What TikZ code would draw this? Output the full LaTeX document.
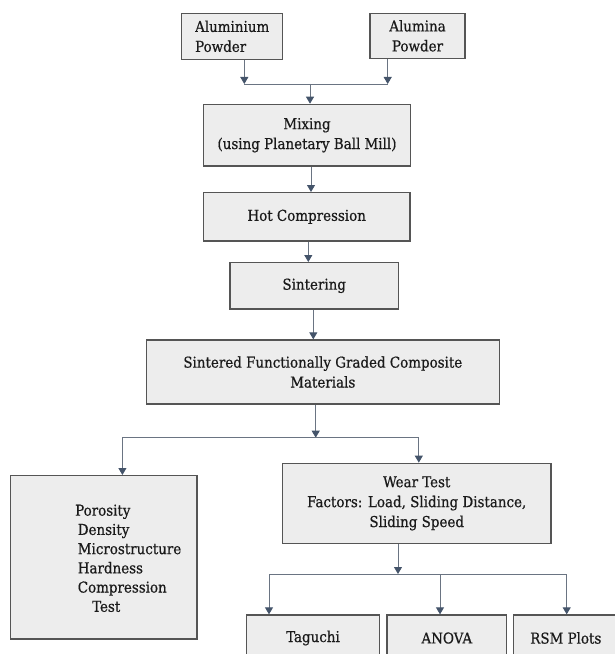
\documentclass[tikz,border=0pt]{standalone}
\usepackage{fontspec}
\setmainfont[FakeBold=0.6]{DejaVu Serif Condensed}
\usetikzlibrary{arrows.meta}
\definecolor{boxfill}{HTML}{EDEDED}
\definecolor{boxline}{HTML}{555555}
\definecolor{arr}{HTML}{6A7482}
\definecolor{tip}{HTML}{44546A}
\definecolor{txt}{HTML}{1A1A1A}
\begin{document}
\begin{tikzpicture}[x=1bp,y=-1bp,
 box/.style={draw=boxline, line width=1.3bp, fill=boxfill, inner sep=0pt, font=\fontsize{15}{20}\selectfont, text=txt, align=center},
 lbl/.style={inner sep=0pt, font=\fontsize{15}{19.3}\selectfont, text=txt, align=left},
 conn/.style={draw=arr, line width=0.9bp},
 arw/.style={conn, -{Triangle[width=8bp,length=7bp,color=tip]}}]
\useasboundingbox (0,0) rectangle (615,654);
\clip (0,0) rectangle (615,654);
% boxes
\node[box, minimum width=101bp, minimum height=46bp, align=left] (alu) at (232.2,36.3) {Aluminium\\Powder};
\node[box, minimum width=95bp, minimum height=45bp] (alm) at (417.5,35.8) {Alumina\\Powder};
\node[box, minimum width=207.4bp, minimum height=61.7bp] (mix) at (307,135.2) {Mixing\\(using Planetary Ball Mill)};
\node[box, minimum width=206.7bp, minimum height=48.3bp] (hot) at (306.7,216.8) {Hot Compression};
\node[box, minimum width=168.3bp, minimum height=46.3bp] (sin) at (314.2,285.8) {Sintering};
\node[box, minimum width=353bp, minimum height=64bp] (fgc) at (322.8,372) {Sintered Functionally Graded Composite\\Materials};
\node[box, minimum width=186.4bp, minimum height=163.3bp] (por) at (103.8,557.3) {};
\node[lbl, anchor=west] (portxt) at (75,558.3) {Porosity\\\hspace{2.6bp}Density\\\hspace{2.6bp}Microstructure\\\hspace{2.6bp}Hardness\\\hspace{2.6bp}Compression\\\hspace{17bp}Test};
\node[box, minimum width=268.6bp, minimum height=80bp] (wear) at (416.7,503.3) {Wear Test\\Factors: Load, Sliding Distance,\\Sliding Speed};
\node[box, minimum width=133.3bp, minimum height=46bp] (tag) at (313,638) {Taguchi};
\node[box, minimum width=119.7bp, minimum height=46bp] (ano) at (446.8,638) {ANOVA};
\node[box, minimum width=104.3bp, minimum height=46bp] (rsm) at (565.8,638) {RSM Plots};
% connectors
\coordinate (xa) at (244.3,0);
\coordinate (xb) at (387.7,0);
\coordinate (jtop) at (310,84);
\draw[arw] (alu.south -| xa) -- (xa |- jtop);
\draw[arw] (alm.south -| xb) -- (xb |- jtop);
\draw[conn] (xa |- jtop) -- (xb |- jtop);
\draw[arw] (jtop) -- (mix.north -| jtop);
\coordinate (x2) at (311,0);
\draw[arw] (mix.south -| x2) -- (hot.north -| x2);
\coordinate (x3) at (308.3,0);
\draw[arw] (hot.south -| x3) -- (sin.north -| x3);
\coordinate (x4) at (313.3,0);
\draw[arw] (sin.south -| x4) -- (fgc.north -| x4);
\coordinate (jm) at (315.7,437.7);
\coordinate (xl) at (122.4,0);
\coordinate (xr) at (418.8,0);
\draw[arw] (fgc.south -| jm) -- (jm);
\draw[conn] (jm -| xl) -- (jm -| xr);
\draw[arw] (jm -| xl) -- (por.north -| xl);
\draw[arw] (jm -| xr) -- (wear.north -| xr);
\coordinate (jb) at (398,574);
\coordinate (xt) at (269,0);
\coordinate (xn) at (440,0);
\coordinate (xs) at (566.7,0);
\draw[arw] (wear.south -| jb) -- (jb);
\draw[conn] (jb -| xt) -- (jb -| xs);
\draw[arw] (jb -| xt) -- (tag.north -| xt);
\draw[arw] (jb -| xn) -- (ano.north -| xn);
\draw[arw] (jb -| xs) -- (rsm.north -| xs);
\end{tikzpicture}
\end{document}
